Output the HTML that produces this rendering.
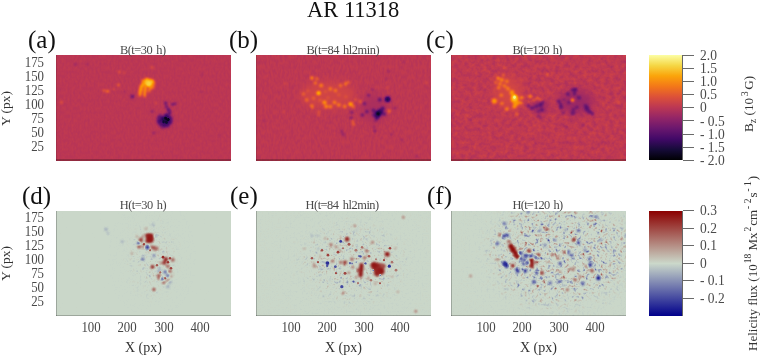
<!DOCTYPE html>
<html><head><meta charset="utf-8">
<style>
*{margin:0;padding:0;box-sizing:border-box}
html,body{width:760px;height:356px;background:#fff;overflow:hidden}
#root{position:absolute;left:0;top:0;width:760px;height:356px;filter:blur(0.45px)}
body{position:relative;font-family:"Liberation Serif",serif;color:#222}
.t{position:absolute;white-space:nowrap;line-height:1}
.pl{font-size:25px;color:#111}
.sub{font-size:11px;color:#444}
.yl{font-size:13px;color:#333;text-align:right;width:30px}
.xl{font-size:13px;color:#333}
.cl{font-size:13px;color:#333}
.rot{transform-origin:0 0;transform:rotate(-90deg)}
.panel{position:absolute;width:175px;height:106px}
.tick{position:absolute;height:1px;width:11px;background:#6a6a6a}
</style></head><body><div id="root">



<svg width="0" height="0" style="position:absolute"><defs><filter id="cmInf" x="0" y="0" width="1" height="1" color-interpolation-filters="sRGB"><feComponentTransfer><feFuncR type="table" tableValues="0.001 0.014 0.042 0.082 0.129 0.183 0.238 0.291 0.342 0.391 0.441 0.491 0.541 0.591 0.640 0.689 0.736 0.781 0.822 0.861 0.894 0.923 0.947 0.965 0.978 0.986 0.988 0.984 0.975 0.961 0.948 0.955 0.988"/><feFuncG type="table" tableValues="0.000 0.011 0.028 0.043 0.047 0.040 0.037 0.046 0.062 0.081 0.099 0.117 0.135 0.153 0.171 0.192 0.216 0.243 0.275 0.312 0.353 0.399 0.449 0.502 0.558 0.616 0.675 0.736 0.798 0.859 0.917 0.966 0.998"/><feFuncB type="table" tableValues="0.014 0.072 0.141 0.215 0.291 0.355 0.396 0.419 0.429 0.433 0.432 0.426 0.415 0.400 0.381 0.358 0.330 0.300 0.266 0.231 0.194 0.155 0.115 0.074 0.035 0.026 0.065 0.130 0.206 0.298 0.411 0.540 0.645"/></feComponentTransfer></filter><filter id="cmDiv" x="0" y="0" width="1" height="1" color-interpolation-filters="sRGB"><feComponentTransfer><feFuncR type="table" tableValues="0.000 0.050 0.100 0.149 0.199 0.249 0.299 0.348 0.398 0.448 0.498 0.547 0.597 0.647 0.697 0.746 0.796 0.780 0.765 0.749 0.733 0.718 0.702 0.686 0.671 0.655 0.639 0.624 0.608 0.592 0.576 0.561 0.545"/><feFuncG type="table" tableValues="0.000 0.053 0.106 0.159 0.212 0.265 0.318 0.371 0.424 0.476 0.529 0.582 0.635 0.688 0.741 0.794 0.847 0.794 0.741 0.688 0.635 0.582 0.529 0.476 0.424 0.371 0.318 0.265 0.212 0.159 0.106 0.053 0.000"/><feFuncB type="table" tableValues="0.545 0.561 0.576 0.591 0.607 0.622 0.638 0.653 0.669 0.684 0.700 0.715 0.730 0.746 0.761 0.777 0.792 0.743 0.693 0.644 0.594 0.545 0.495 0.446 0.396 0.347 0.297 0.248 0.198 0.149 0.099 0.050 0.000"/></feComponentTransfer></filter><filter id="b0_4" filterUnits="userSpaceOnUse" x="-20" y="-20" width="215" height="146"><feGaussianBlur stdDeviation="0.4"/></filter><filter id="b0_6" filterUnits="userSpaceOnUse" x="-20" y="-20" width="215" height="146"><feGaussianBlur stdDeviation="0.6"/></filter><filter id="b0_8" filterUnits="userSpaceOnUse" x="-20" y="-20" width="215" height="146"><feGaussianBlur stdDeviation="0.8"/></filter><filter id="b1" filterUnits="userSpaceOnUse" x="-20" y="-20" width="215" height="146"><feGaussianBlur stdDeviation="1"/></filter><filter id="b1_3" filterUnits="userSpaceOnUse" x="-20" y="-20" width="215" height="146"><feGaussianBlur stdDeviation="1.3"/></filter><filter id="b1_6" filterUnits="userSpaceOnUse" x="-20" y="-20" width="215" height="146"><feGaussianBlur stdDeviation="1.6"/></filter><filter id="b2" filterUnits="userSpaceOnUse" x="-20" y="-20" width="215" height="146"><feGaussianBlur stdDeviation="2"/></filter><filter id="b2_5" filterUnits="userSpaceOnUse" x="-20" y="-20" width="215" height="146"><feGaussianBlur stdDeviation="2.5"/></filter><filter id="b3" filterUnits="userSpaceOnUse" x="-20" y="-20" width="215" height="146"><feGaussianBlur stdDeviation="3"/></filter><filter id="b4" filterUnits="userSpaceOnUse" x="-20" y="-20" width="215" height="146"><feGaussianBlur stdDeviation="4"/></filter><filter id="b5" filterUnits="userSpaceOnUse" x="-20" y="-20" width="215" height="146"><feGaussianBlur stdDeviation="5"/></filter></defs></svg><svg class="panel" style="left:56px;top:55px;width:175px;height:105.5px" viewBox="0 0 175 105.5" preserveAspectRatio="none"><defs><filter id="n_a" x="0" y="0" width="1" height="1" color-interpolation-filters="sRGB"><feTurbulence type="fractalNoise" baseFrequency="0.5 0.25" numOctaves="2" seed="3"/><feColorMatrix type="matrix" values="0.045 0 0 0 0.4775 0.045 0 0 0 0.4775 0.045 0 0 0 0.4775 0 0 0 0 1"/></filter></defs><g filter="url(#cmInf)"><rect width="175" height="105.5" fill="rgb(128,128,128)"/><rect width="175" height="105.5" filter="url(#n_a)"/><g filter="url(#b1)"><circle cx="90" cy="27" r="3" fill="rgb(204,204,204)"/><circle cx="93" cy="28.5" r="3.5" fill="rgb(224,224,224)"/><circle cx="96" cy="26.5" r="2.2" fill="rgb(209,209,209)"/><circle cx="87.5" cy="29" r="2.5" fill="rgb(199,199,199)"/><circle cx="91" cy="25" r="2.2" fill="rgb(209,209,209)"/><circle cx="96.5" cy="30.5" r="2" fill="rgb(194,194,194)"/><circle cx="94" cy="25.3" r="1.8" fill="rgb(204,204,204)"/><circle cx="85.5" cy="31.5" r="2" fill="rgb(204,204,204)"/><circle cx="84.8" cy="34.5" r="2" fill="rgb(201,201,201)"/><circle cx="84.2" cy="37.5" r="1.9" fill="rgb(196,196,196)"/><circle cx="84" cy="40" r="1.6" fill="rgb(189,189,189)"/><circle cx="89.5" cy="33" r="1.8" fill="rgb(201,201,201)"/><circle cx="89" cy="36" r="1.8" fill="rgb(199,199,199)"/><circle cx="88.7" cy="39" r="1.7" fill="rgb(194,194,194)"/><circle cx="88.8" cy="41" r="1.4" fill="rgb(184,184,184)"/><circle cx="93.7" cy="34" r="1.5" fill="rgb(178,178,178)"/><circle cx="97" cy="32.7" r="1.5" fill="rgb(166,166,166)"/><circle cx="94.5" cy="33" r="1.8" fill="rgb(189,189,189)"/><circle cx="96.5" cy="30.5" r="1.8" fill="rgb(189,189,189)"/><circle cx="93" cy="36" r="1.4" fill="rgb(178,178,178)"/><circle cx="98" cy="28" r="1.5" fill="rgb(178,178,178)"/><circle cx="87" cy="25.5" r="1.6" fill="rgb(189,189,189)"/></g><g filter="url(#b0_8)"><circle cx="93" cy="28.2" r="2.2" fill="rgb(230,230,230)"/><circle cx="91" cy="27" r="1.5" fill="rgb(222,222,222)"/><circle cx="95.5" cy="27" r="1.3" fill="rgb(219,219,219)"/></g><ellipse cx="109" cy="66" rx="6.5" ry="5.5" fill="rgb(89,89,89)" filter="url(#b2)"/><g filter="url(#b0_8)"><circle cx="104.5" cy="62.5" r="2.2" fill="rgb(64,64,64)"/><circle cx="103.5" cy="66.5" r="2.5" fill="rgb(56,56,56)"/><circle cx="105.5" cy="69.5" r="2.2" fill="rgb(64,64,64)"/><circle cx="108" cy="70.5" r="2.2" fill="rgb(56,56,56)"/><circle cx="111.5" cy="70" r="2" fill="rgb(56,56,56)"/><circle cx="114" cy="67" r="2.2" fill="rgb(56,56,56)"/><circle cx="113.5" cy="63" r="2.2" fill="rgb(51,51,51)"/><circle cx="110.5" cy="61" r="2.4" fill="rgb(46,46,46)"/><circle cx="107" cy="64" r="2.5" fill="rgb(38,38,38)"/><circle cx="109.5" cy="66" r="2.8" fill="rgb(31,31,31)"/><circle cx="102" cy="64.5" r="1.3" fill="rgb(76,76,76)"/><circle cx="115.5" cy="64" r="1.3" fill="rgb(71,71,71)"/></g><g filter="url(#b0_6)"><circle cx="112" cy="64.6" r="1.6" fill="rgb(8,8,8)"/><circle cx="109.7" cy="63.2" r="1.4" fill="rgb(13,13,13)"/><circle cx="107.5" cy="67" r="1.2" fill="rgb(20,20,20)"/><circle cx="110.5" cy="67.5" r="1.2" fill="rgb(18,18,18)"/></g><g filter="url(#b0_8)"><circle cx="109.7" cy="48" r="1.6" fill="rgb(64,64,64)"/><circle cx="110.5" cy="51.5" r="1.5" fill="rgb(66,66,66)"/><circle cx="112.4" cy="54.7" r="1.7" fill="rgb(56,56,56)"/><circle cx="113.3" cy="58.5" r="1.7" fill="rgb(56,56,56)"/><circle cx="116.5" cy="49.3" r="1.4" fill="rgb(71,71,71)"/><circle cx="119.2" cy="48.8" r="1.3" fill="rgb(76,76,76)"/><circle cx="103" cy="62.3" r="1.5" fill="rgb(71,71,71)"/><circle cx="96.2" cy="56.5" r="1.3" fill="rgb(84,84,84)"/><circle cx="98" cy="78" r="1.2" fill="rgb(89,89,89)"/><circle cx="106" cy="73" r="1" fill="rgb(89,89,89)"/><circle cx="104" cy="59.5" r="1.0" fill="rgb(89,89,89)"/><circle cx="114.5" cy="56" r="1.1" fill="rgb(76,76,76)"/></g><g filter="url(#b0_8)"><circle cx="63.3" cy="17" r="1.2" fill="rgb(168,168,168)"/><circle cx="67.9" cy="17.7" r="1.0" fill="rgb(158,158,158)"/><circle cx="62.5" cy="30" r="1.3" fill="rgb(178,178,178)"/><circle cx="51.7" cy="36.3" r="1.5" fill="rgb(184,184,184)"/><circle cx="48.1" cy="35.5" r="1.3" fill="rgb(173,173,173)"/><circle cx="57.9" cy="34" r="1.0" fill="rgb(163,163,163)"/><circle cx="5.5" cy="47.2" r="1.3" fill="rgb(163,163,163)"/><circle cx="95.8" cy="12.3" r="1.5" fill="rgb(153,153,153)"/><circle cx="99.8" cy="48" r="1.2" fill="rgb(148,148,148)"/></g><g filter="url(#b0_8)"><circle cx="76.4" cy="41.4" r="2" fill="rgb(76,76,76)"/><circle cx="19.3" cy="9.3" r="1.5" fill="rgb(107,107,107)"/><circle cx="31.6" cy="9.3" r="1.3" fill="rgb(107,107,107)"/><circle cx="146" cy="20" r="1" fill="rgb(107,107,107)"/><circle cx="163.6" cy="79.9" r="1" fill="rgb(107,107,107)"/><circle cx="68.7" cy="37" r="1" fill="rgb(102,102,102)"/><circle cx="145.2" cy="37" r="1" fill="rgb(107,107,107)"/></g></g><rect x="0" y="0" width="1" height="105.5" fill="#000" opacity="0.12"/><rect x="0" y="104.5" width="175" height="1" fill="#000" opacity="0.45"/></svg>
<svg class="panel" style="left:256px;top:55px;width:175px;height:105.5px" viewBox="0 0 175 105.5" preserveAspectRatio="none"><defs><filter id="n_b" x="0" y="0" width="1" height="1" color-interpolation-filters="sRGB"><feTurbulence type="fractalNoise" baseFrequency="0.45 0.2" numOctaves="2" seed="5"/><feColorMatrix type="matrix" values="0.06 0 0 0 0.475 0.06 0 0 0 0.475 0.06 0 0 0 0.475 0 0 0 0 1"/></filter></defs><g filter="url(#cmInf)"><rect width="175" height="105.5" fill="rgb(128,128,128)"/><rect width="175" height="105.5" filter="url(#n_b)"/><ellipse cx="72" cy="40" rx="28" ry="13" fill="rgb(142,142,142)" filter="url(#b4)"/><g filter="url(#b1)"><circle cx="55.9" cy="23" r="2" fill="rgb(184,184,184)"/><circle cx="59.3" cy="28" r="1.8" fill="rgb(178,178,178)"/><circle cx="60.9" cy="23.8" r="1.6" fill="rgb(173,173,173)"/><circle cx="65.1" cy="30.6" r="2" fill="rgb(184,184,184)"/><circle cx="62.6" cy="38.1" r="2.2" fill="rgb(204,204,204)"/><circle cx="74.4" cy="33.9" r="1.9" fill="rgb(178,178,178)"/><circle cx="79.5" cy="35.6" r="1.8" fill="rgb(178,178,178)"/><circle cx="84.5" cy="30.6" r="1.8" fill="rgb(173,173,173)"/><circle cx="89.6" cy="28.9" r="1.8" fill="rgb(178,178,178)"/><circle cx="92.1" cy="27.2" r="1.6" fill="rgb(168,168,168)"/><circle cx="47.5" cy="39" r="1.8" fill="rgb(168,168,168)"/><circle cx="50.8" cy="44.9" r="1.8" fill="rgb(173,173,173)"/><circle cx="55.9" cy="50.8" r="1.9" fill="rgb(178,178,178)"/><circle cx="68.5" cy="47.4" r="2.2" fill="rgb(194,194,194)"/><circle cx="70.2" cy="51.6" r="2" fill="rgb(189,189,189)"/><circle cx="74.4" cy="51.6" r="1.9" fill="rgb(184,184,184)"/><circle cx="78.6" cy="47.4" r="1.9" fill="rgb(184,184,184)"/><circle cx="82.8" cy="49.9" r="1.9" fill="rgb(184,184,184)"/><circle cx="88.7" cy="51.6" r="2" fill="rgb(184,184,184)"/><circle cx="94.6" cy="49.1" r="2.2" fill="rgb(199,199,199)"/><circle cx="97.1" cy="51.6" r="1.8" fill="rgb(178,178,178)"/><circle cx="104.7" cy="46.6" r="1.8" fill="rgb(178,178,178)"/><circle cx="57.6" cy="43.2" r="1.6" fill="rgb(168,168,168)"/><circle cx="62.6" cy="57" r="1.3" fill="rgb(168,168,168)"/><circle cx="62.6" cy="60" r="1.2" fill="rgb(163,163,163)"/><circle cx="69.4" cy="36.5" r="1.5" fill="rgb(158,158,158)"/><circle cx="82.8" cy="39.8" r="1.5" fill="rgb(158,158,158)"/><circle cx="52" cy="36" r="1.4" fill="rgb(158,158,158)"/><circle cx="64" cy="45" r="1.5" fill="rgb(163,163,163)"/><circle cx="72" cy="43" r="1.4" fill="rgb(158,158,158)"/><circle cx="90" cy="42" r="1.4" fill="rgb(158,158,158)"/><circle cx="100" cy="45" r="1.4" fill="rgb(163,163,163)"/><circle cx="95.7" cy="48.7" r="1.6" fill="rgb(184,184,184)"/><circle cx="132.8" cy="56" r="1.8" fill="rgb(194,194,194)"/><circle cx="97.4" cy="69" r="1.5" fill="rgb(173,173,173)"/><circle cx="96.8" cy="66" r="1.3" fill="rgb(173,173,173)"/><circle cx="88.1" cy="50.9" r="1.4" fill="rgb(173,173,173)"/><circle cx="56.6" cy="52.5" r="1.4" fill="rgb(173,173,173)"/><circle cx="29.3" cy="28.5" r="1.3" fill="rgb(153,153,153)"/><circle cx="27.5" cy="57" r="1.2" fill="rgb(148,148,148)"/><circle cx="170.6" cy="27.8" r="1.3" fill="rgb(153,153,153)"/><circle cx="131.3" cy="32.4" r="1.3" fill="rgb(153,153,153)"/><circle cx="133" cy="56.3" r="1.5" fill="rgb(184,184,184)"/><circle cx="104.7" cy="47" r="1.5" fill="rgb(178,178,178)"/></g><g filter="url(#b0_8)"><circle cx="62.6" cy="38.1" r="1.2" fill="rgb(219,219,219)"/><circle cx="94.6" cy="49.1" r="1.0" fill="rgb(209,209,209)"/></g><ellipse cx="118" cy="53" rx="13" ry="14" fill="rgb(116,116,116)" filter="url(#b4)"/><g filter="url(#b0_8)"><circle cx="131.6" cy="44.2" r="3" fill="rgb(46,46,46)"/><circle cx="122.1" cy="58.8" r="3.2" fill="rgb(26,26,26)"/><circle cx="124.3" cy="56.6" r="2.8" fill="rgb(38,38,38)"/><circle cx="126.6" cy="53.8" r="2.2" fill="rgb(64,64,64)"/><circle cx="123.8" cy="44.8" r="2" fill="rgb(71,71,71)"/><circle cx="117.6" cy="55.5" r="2" fill="rgb(69,69,69)"/><circle cx="118.2" cy="60" r="2" fill="rgb(66,66,66)"/><circle cx="110.9" cy="56.6" r="1.8" fill="rgb(76,76,76)"/><circle cx="108.6" cy="48.7" r="1.6" fill="rgb(76,76,76)"/><circle cx="106.4" cy="60" r="1.8" fill="rgb(76,76,76)"/><circle cx="112.5" cy="40.3" r="1.5" fill="rgb(82,82,82)"/><circle cx="116.5" cy="34.7" r="1.3" fill="rgb(97,97,97)"/><circle cx="95.7" cy="57.2" r="1.5" fill="rgb(82,82,82)"/><circle cx="95.1" cy="62.8" r="1.5" fill="rgb(84,84,84)"/><circle cx="119.8" cy="65.6" r="1.5" fill="rgb(92,92,92)"/><circle cx="139" cy="53.2" r="1.3" fill="rgb(97,97,97)"/><circle cx="121" cy="62" r="2.5" fill="rgb(51,51,51)"/><circle cx="128" cy="59" r="2" fill="rgb(71,71,71)"/><circle cx="118.8" cy="76" r="1.4" fill="rgb(84,84,84)"/><circle cx="118" cy="72" r="1.2" fill="rgb(97,97,97)"/><circle cx="135.3" cy="79.1" r="1.2" fill="rgb(97,97,97)"/><circle cx="145.5" cy="84.6" r="1.2" fill="rgb(102,102,102)"/><circle cx="160.5" cy="101.1" r="1.2" fill="rgb(102,102,102)"/><circle cx="86.6" cy="78.3" r="1.2" fill="rgb(102,102,102)"/><circle cx="85.7" cy="76" r="1.2" fill="rgb(92,92,92)"/><circle cx="87.3" cy="79.9" r="1.2" fill="rgb(92,92,92)"/><circle cx="7.9" cy="65.7" r="1.2" fill="rgb(107,107,107)"/><circle cx="132.8" cy="16.2" r="1.2" fill="rgb(102,102,102)"/><circle cx="147.5" cy="6.9" r="1.2" fill="rgb(102,102,102)"/><circle cx="130.5" cy="23.9" r="1.2" fill="rgb(107,107,107)"/></g><g filter="url(#b0_8)"><circle cx="122.1" cy="58.8" r="1.6" fill="rgb(0,0,0)"/><circle cx="131.6" cy="44.2" r="1.5" fill="rgb(20,20,20)"/></g></g><rect x="0" y="0" width="1" height="105.5" fill="#000" opacity="0.12"/><rect x="0" y="104.5" width="175" height="1" fill="#000" opacity="0.45"/></svg>
<svg class="panel" style="left:451px;top:55px;width:175px;height:105.5px" viewBox="0 0 175 105.5" preserveAspectRatio="none"><defs><filter id="n_c" x="0" y="0" width="1" height="1" color-interpolation-filters="sRGB"><feTurbulence type="fractalNoise" baseFrequency="0.22" numOctaves="3" seed="7"/><feColorMatrix type="matrix" values="0.12 0 0 0 0.45 0.12 0 0 0 0.45 0.12 0 0 0 0.45 0 0 0 0 1"/></filter></defs><g filter="url(#cmInf)"><rect width="175" height="105.5" fill="rgb(128,128,128)"/><rect width="175" height="105.5" filter="url(#n_c)"/><ellipse cx="57" cy="38" rx="14" ry="16" fill="rgb(144,144,144)" filter="url(#b4)"/><g filter="url(#b1)"><circle cx="63.5" cy="44" r="4" fill="rgb(196,196,196)"/><circle cx="61" cy="38" r="2.5" fill="rgb(191,191,191)"/><circle cx="65" cy="48" r="3" fill="rgb(196,196,196)"/><circle cx="47.1" cy="23.2" r="2" fill="rgb(186,186,186)"/><circle cx="50.9" cy="25.1" r="2" fill="rgb(186,186,186)"/><circle cx="55.9" cy="26.4" r="1.8" fill="rgb(181,181,181)"/><circle cx="49" cy="28.9" r="1.8" fill="rgb(181,181,181)"/><circle cx="53.4" cy="30.8" r="1.8" fill="rgb(181,181,181)"/><circle cx="47.7" cy="32.7" r="1.8" fill="rgb(181,181,181)"/><circle cx="57.2" cy="33.9" r="1.8" fill="rgb(186,186,186)"/><circle cx="61" cy="37.1" r="2" fill="rgb(196,196,196)"/><circle cx="43.3" cy="45.9" r="2.6" fill="rgb(196,196,196)"/><circle cx="50.3" cy="40.3" r="1.8" fill="rgb(181,181,181)"/><circle cx="50.9" cy="48.5" r="1.8" fill="rgb(181,181,181)"/><circle cx="55.9" cy="54.1" r="2" fill="rgb(191,191,191)"/><circle cx="63.5" cy="51.6" r="2.2" fill="rgb(196,196,196)"/><circle cx="70.5" cy="42.8" r="1.8" fill="rgb(191,191,191)"/><circle cx="70.5" cy="47.8" r="1.6" fill="rgb(181,181,181)"/><circle cx="79.3" cy="41.5" r="1.8" fill="rgb(181,181,181)"/><circle cx="83.1" cy="45.3" r="1.6" fill="rgb(176,176,176)"/><circle cx="55.9" cy="32.7" r="1.6" fill="rgb(176,176,176)"/><circle cx="52.2" cy="20" r="1.5" fill="rgb(173,173,173)"/><circle cx="44.6" cy="27.6" r="1.5" fill="rgb(173,173,173)"/><circle cx="53.2" cy="13.1" r="1.4" fill="rgb(166,166,166)"/><circle cx="66" cy="59.4" r="1.4" fill="rgb(176,176,176)"/><circle cx="83.3" cy="70.4" r="1.2" fill="rgb(166,166,166)"/><circle cx="96.6" cy="19.3" r="1.4" fill="rgb(171,171,171)"/><circle cx="88.9" cy="44.8" r="1.5" fill="rgb(176,176,176)"/><circle cx="167.6" cy="47" r="1.3" fill="rgb(166,166,166)"/><circle cx="79" cy="41.3" r="1.8" fill="rgb(186,186,186)"/><circle cx="86.4" cy="43.5" r="1.5" fill="rgb(181,181,181)"/><circle cx="89.7" cy="45.2" r="1.5" fill="rgb(181,181,181)"/><circle cx="55.8" cy="53.9" r="1.6" fill="rgb(181,181,181)"/><circle cx="67.9" cy="47.8" r="1.8" fill="rgb(191,191,191)"/></g><ellipse cx="63.5" cy="42.8" rx="2.6" ry="3.2" fill="rgb(224,224,224)" filter="url(#b1)"/><ellipse cx="63.5" cy="42.2" rx="1.4" ry="1.7" fill="rgb(247,247,247)" filter="url(#b0_6)"/><g filter="url(#b0_8)"><circle cx="121.6" cy="45.2" r="1.7" fill="rgb(194,194,194)"/><circle cx="121.2" cy="44.9" r="1.2" fill="rgb(204,204,204)"/></g><ellipse cx="89" cy="52" rx="9" ry="6" fill="rgb(107,107,107)" filter="url(#b3)"/><ellipse cx="125" cy="47" rx="17" ry="12" fill="rgb(107,107,107)" filter="url(#b4)"/><g filter="url(#b1)"><circle cx="89.7" cy="49.7" r="2.2" fill="rgb(64,64,64)"/><circle cx="90.9" cy="54.8" r="2" fill="rgb(71,71,71)"/><circle cx="85.2" cy="51.4" r="2" fill="rgb(76,76,76)"/><circle cx="80.7" cy="53.1" r="1.8" fill="rgb(76,76,76)"/><circle cx="77.4" cy="50.8" r="1.6" fill="rgb(82,82,82)"/><circle cx="87.5" cy="61" r="1.5" fill="rgb(92,92,92)"/><circle cx="92" cy="47.5" r="1.6" fill="rgb(76,76,76)"/><circle cx="110" cy="52" r="2.2" fill="rgb(64,64,64)"/><circle cx="107.7" cy="46.3" r="2" fill="rgb(76,76,76)"/><circle cx="116.7" cy="39" r="2" fill="rgb(76,76,76)"/><circle cx="117.8" cy="47.5" r="1.8" fill="rgb(76,76,76)"/><circle cx="121.2" cy="35.1" r="1.8" fill="rgb(76,76,76)"/><circle cx="121.2" cy="57.6" r="1.8" fill="rgb(82,82,82)"/><circle cx="112.2" cy="57.6" r="1.6" fill="rgb(87,87,87)"/><circle cx="124.1" cy="34.8" r="2.2" fill="rgb(61,61,61)"/><circle cx="128" cy="42.7" r="2" fill="rgb(69,69,69)"/><circle cx="123.5" cy="38.7" r="1.8" fill="rgb(71,71,71)"/><circle cx="135.9" cy="53.3" r="2.4" fill="rgb(56,56,56)"/><circle cx="134.7" cy="51.1" r="2" fill="rgb(66,66,66)"/><circle cx="138.1" cy="56.7" r="2" fill="rgb(69,69,69)"/><circle cx="122.4" cy="54.5" r="1.8" fill="rgb(76,76,76)"/><circle cx="125.7" cy="52.2" r="1.8" fill="rgb(76,76,76)"/><circle cx="121.2" cy="59" r="1.6" fill="rgb(82,82,82)"/><circle cx="141.5" cy="59" r="1.8" fill="rgb(76,76,76)"/><circle cx="124.4" cy="34.7" r="1.8" fill="rgb(66,66,66)"/><circle cx="109.7" cy="49.4" r="1.8" fill="rgb(76,76,76)"/><circle cx="90.5" cy="54.7" r="1.8" fill="rgb(76,76,76)"/><circle cx="110.2" cy="52.4" r="1.6" fill="rgb(76,76,76)"/><circle cx="122.7" cy="57.9" r="1.7" fill="rgb(76,76,76)"/><circle cx="135.3" cy="54.7" r="1.7" fill="rgb(71,71,71)"/><circle cx="140" cy="57.1" r="1.6" fill="rgb(76,76,76)"/><circle cx="132.2" cy="70.4" r="1.4" fill="rgb(92,92,92)"/><circle cx="114.9" cy="72" r="1.3" fill="rgb(97,97,97)"/><circle cx="89.7" cy="62.6" r="1.3" fill="rgb(92,92,92)"/><circle cx="81.8" cy="53.1" r="1.5" fill="rgb(82,82,82)"/><circle cx="87.3" cy="56.3" r="1.5" fill="rgb(82,82,82)"/><circle cx="19.7" cy="64.9" r="1.3" fill="rgb(102,102,102)"/><circle cx="134.4" cy="50.9" r="1.7" fill="rgb(71,71,71)"/><circle cx="112.8" cy="44.8" r="1.4" fill="rgb(89,89,89)"/><circle cx="127.4" cy="42.4" r="1.7" fill="rgb(76,76,76)"/><circle cx="117.4" cy="39.4" r="1.6" fill="rgb(76,76,76)"/><circle cx="81.2" cy="52.9" r="1.6" fill="rgb(76,76,76)"/><circle cx="77.4" cy="50.4" r="1.4" fill="rgb(84,84,84)"/><circle cx="86.2" cy="50.4" r="1.5" fill="rgb(76,76,76)"/></g><g filter="url(#b0_8)"><circle cx="121.6" cy="45.2" r="1.7" fill="rgb(194,194,194)"/><circle cx="121.2" cy="44.9" r="1.2" fill="rgb(204,204,204)"/></g></g><rect x="0" y="0" width="1" height="105.5" fill="#000" opacity="0.12"/><rect x="0" y="104.5" width="175" height="1" fill="#000" opacity="0.45"/></svg>
<svg class="panel" style="left:56px;top:210.8px;width:175px;height:105.5px" viewBox="0 0 175 105.5" preserveAspectRatio="none"><defs><filter id="n_d" x="0" y="0" width="1" height="1" color-interpolation-filters="sRGB"><feTurbulence type="fractalNoise" baseFrequency="0.5" numOctaves="2" seed="9"/><feColorMatrix type="matrix" values="0.015 0 0 0 0.4925 0.015 0 0 0 0.4925 0.015 0 0 0 0.4925 0 0 0 0 1"/></filter></defs><g filter="url(#cmDiv)"><rect width="175" height="105.5" fill="rgb(128,128,128)"/><rect width="175" height="105.5" filter="url(#n_d)"/><filter id="sp1" filterUnits="userSpaceOnUse" x="0" y="0" width="175" height="106" color-interpolation-filters="sRGB"><feGaussianBlur in="SourceAlpha" stdDeviation="10" result="m"/><feTurbulence type="fractalNoise" baseFrequency="0.3" numOctaves="2" seed="41" result="t"/><feColorMatrix in="t" type="matrix" values="0.7 0 0 0 0.15000000000000002 0.7 0 0 0 0.15000000000000002 0.7 0 0 0 0.15000000000000002 0 0 0 0 1" result="c"/><feComponentTransfer in="c" result="d"><feFuncR type="table" tableValues="0 0.22 0.38 0.46 0.5 0.5 0.54 0.62 0.78 1"/><feFuncG type="table" tableValues="0 0.22 0.38 0.46 0.5 0.5 0.54 0.62 0.78 1"/><feFuncB type="table" tableValues="0 0.22 0.38 0.46 0.5 0.5 0.54 0.62 0.78 1"/></feComponentTransfer><feComposite in="d" in2="m" operator="in"/></filter><ellipse cx="96" cy="47.2" rx="20" ry="34" fill="#000" filter="url(#sp1)"/><path d="M90.5 24.2 L96 24.2 L95.8 29.7 L91 30.2" stroke="rgb(242,242,242)" stroke-width="3.0" fill="none" stroke-linecap="round" stroke-linejoin="round" filter="url(#b0_8)"/><ellipse cx="93.3" cy="27.2" rx="3.4" ry="4.0" fill="rgb(242,242,242)" filter="url(#b0_8)"/><g filter="url(#b0_8)"><circle cx="84.8" cy="29.5" r="2.2" fill="rgb(204,204,204)"/><circle cx="83.1" cy="35.7" r="1.8" fill="rgb(209,209,209)"/><circle cx="89.8" cy="17.7" r="1.5" fill="rgb(158,158,158)"/><circle cx="87" cy="25.2" r="1.5" fill="rgb(178,178,178)"/><circle cx="94" cy="35.2" r="1.5" fill="rgb(191,191,191)"/><circle cx="97.7" cy="36.8" r="1.8" fill="rgb(224,224,224)"/><circle cx="101.1" cy="37.9" r="1.5" fill="rgb(204,204,204)"/><circle cx="83.1" cy="35.6" r="1.6" fill="rgb(217,217,217)"/><circle cx="87.3" cy="35.6" r="1.3" fill="rgb(204,204,204)"/><circle cx="96.5" cy="36.3" r="1.5" fill="rgb(217,217,217)"/><circle cx="100.7" cy="37.0" r="1.4" fill="rgb(204,204,204)"/><circle cx="76.1" cy="42.6" r="1.4" fill="rgb(166,166,166)"/><circle cx="109.8" cy="48.2" r="2.2" fill="rgb(235,235,235)"/><circle cx="108.4" cy="51.8" r="2" fill="rgb(235,235,235)"/><circle cx="116.8" cy="48.9" r="1.8" fill="rgb(209,209,209)"/><circle cx="96.5" cy="56.0" r="2" fill="rgb(235,235,235)"/><circle cx="111.9" cy="55.3" r="1.7" fill="rgb(204,204,204)"/><circle cx="114" cy="60.2" r="1.7" fill="rgb(204,204,204)"/><circle cx="102.8" cy="64.4" r="1.7" fill="rgb(217,217,217)"/><circle cx="102.8" cy="67.2" r="1.5" fill="rgb(204,204,204)"/><circle cx="107.7" cy="71.4" r="1.6" fill="rgb(209,209,209)"/><circle cx="111.9" cy="69.3" r="1.5" fill="rgb(191,191,191)"/><circle cx="97.9" cy="78.4" r="1.5" fill="rgb(230,230,230)"/><circle cx="85" cy="28.2" r="1.5" fill="rgb(230,230,230)"/><circle cx="105" cy="52.2" r="1.3" fill="rgb(184,184,184)"/><circle cx="115" cy="65.2" r="1.3" fill="rgb(184,184,184)"/><circle cx="99" cy="39.2" r="1.2" fill="rgb(178,178,178)"/><circle cx="92" cy="41.2" r="1.1" fill="rgb(166,166,166)"/><circle cx="81" cy="25.2" r="1.2" fill="rgb(166,166,166)"/></g><g filter="url(#b0_6)"><circle cx="107" cy="46.2" r="1.4" fill="rgb(230,230,230)"/><circle cx="112" cy="51.2" r="1.3" fill="rgb(224,224,224)"/><circle cx="115" cy="57.2" r="1.3" fill="rgb(217,217,217)"/><circle cx="104" cy="61.2" r="1.3" fill="rgb(217,217,217)"/><circle cx="109" cy="67.2" r="1.2" fill="rgb(217,217,217)"/><circle cx="101" cy="54.2" r="1.2" fill="rgb(204,204,204)"/><circle cx="114" cy="47.2" r="1.2" fill="rgb(217,217,217)"/><circle cx="88" cy="33.2" r="1.2" fill="rgb(217,217,217)"/><circle cx="94" cy="39.2" r="1.1" fill="rgb(204,204,204)"/></g><g filter="url(#b0_8)"><circle cx="82.5" cy="32.3" r="1.3" fill="rgb(13,13,13)"/><circle cx="91.5" cy="36.2" r="2" fill="rgb(13,13,13)"/><circle cx="86.6" cy="48.2" r="1.4" fill="rgb(46,46,46)"/><circle cx="97.9" cy="44.7" r="1.3" fill="rgb(51,51,51)"/><circle cx="109.1" cy="60.9" r="1.6" fill="rgb(51,51,51)"/><circle cx="111.9" cy="64.4" r="1.5" fill="rgb(56,56,56)"/><circle cx="106.3" cy="67.9" r="1.5" fill="rgb(31,31,31)"/><circle cx="102.8" cy="60.2" r="1.3" fill="rgb(82,82,82)"/><circle cx="111.9" cy="75.6" r="1.2" fill="rgb(76,76,76)"/><circle cx="96.6" cy="13.2" r="1.0" fill="rgb(89,89,89)"/><circle cx="66.2" cy="30.6" r="1.2" fill="rgb(89,89,89)"/><circle cx="50" cy="18.2" r="1.2" fill="rgb(82,82,82)"/><circle cx="52" cy="22.2" r="1.0" fill="rgb(89,89,89)"/><circle cx="114" cy="71.2" r="1.2" fill="rgb(76,76,76)"/><circle cx="104" cy="57.2" r="1.1" fill="rgb(76,76,76)"/><circle cx="99" cy="25.2" r="1.1" fill="rgb(76,76,76)"/></g></g><rect x="0" y="0" width="1" height="105.5" fill="#000" opacity="0.22"/><rect x="0" y="104.5" width="175" height="1" fill="#000" opacity="0.45"/></svg>
<svg class="panel" style="left:256px;top:210.8px;width:175px;height:105.5px" viewBox="0 0 175 105.5" preserveAspectRatio="none"><defs><filter id="n_e" x="0" y="0" width="1" height="1" color-interpolation-filters="sRGB"><feTurbulence type="fractalNoise" baseFrequency="0.5" numOctaves="2" seed="11"/><feColorMatrix type="matrix" values="0.03 0 0 0 0.485 0.03 0 0 0 0.485 0.03 0 0 0 0.485 0 0 0 0 1"/></filter></defs><g filter="url(#cmDiv)"><rect width="175" height="105.5" fill="rgb(128,128,128)"/><rect width="175" height="105.5" filter="url(#n_e)"/><filter id="sp2" filterUnits="userSpaceOnUse" x="0" y="0" width="175" height="106" color-interpolation-filters="sRGB"><feGaussianBlur in="SourceAlpha" stdDeviation="12" result="m"/><feTurbulence type="fractalNoise" baseFrequency="0.3" numOctaves="2" seed="31" result="t"/><feColorMatrix in="t" type="matrix" values="0.88 0 0 0 0.06 0.88 0 0 0 0.06 0.88 0 0 0 0.06 0 0 0 0 1" result="c"/><feComponentTransfer in="c" result="d"><feFuncR type="table" tableValues="0 0.22 0.38 0.46 0.5 0.5 0.54 0.62 0.78 1"/><feFuncG type="table" tableValues="0 0.22 0.38 0.46 0.5 0.5 0.54 0.62 0.78 1"/><feFuncB type="table" tableValues="0 0.22 0.38 0.46 0.5 0.5 0.54 0.62 0.78 1"/></feComponentTransfer><feComposite in="d" in2="m" operator="in"/></filter><ellipse cx="96" cy="51.2" rx="48" ry="34" fill="#000" filter="url(#sp2)"/><g filter="url(#b0_8)"><circle cx="122.1" cy="57.3" r="5.5" fill="rgb(230,230,230)"/><circle cx="118" cy="54.2" r="3.5" fill="rgb(242,242,242)"/><circle cx="125" cy="60.2" r="3.5" fill="rgb(242,242,242)"/><circle cx="121" cy="62.2" r="3" fill="rgb(235,235,235)"/><circle cx="127" cy="55.2" r="2.5" fill="rgb(217,217,217)"/></g><path d="M105.5 54.2 L105 59.2 L104.5 64.2" stroke="rgb(242,242,242)" stroke-width="4.2" fill="none" stroke-linecap="round" stroke-linejoin="round" filter="url(#b0_8)"/><g filter="url(#b0_8)"><circle cx="131.2" cy="43.2" r="2.5" fill="rgb(242,242,242)"/><circle cx="91" cy="28.2" r="2.4" fill="rgb(235,235,235)"/><circle cx="89" cy="51.4" r="2" fill="rgb(235,235,235)"/><circle cx="103" cy="59.2" r="1.8" fill="rgb(230,230,230)"/></g><g filter="url(#b0_8)"><circle cx="74.9" cy="33.9" r="1.8" fill="rgb(191,191,191)"/><circle cx="80.5" cy="36.0" r="1.6" fill="rgb(184,184,184)"/><circle cx="58" cy="53.5" r="1.4" fill="rgb(166,166,166)"/><circle cx="76.3" cy="50.0" r="1.7" fill="rgb(191,191,191)"/><circle cx="84.7" cy="51.4" r="1.7" fill="rgb(199,199,199)"/><circle cx="110.9" cy="39.7" r="1.8" fill="rgb(204,204,204)"/><circle cx="108.7" cy="46.8" r="1.8" fill="rgb(199,199,199)"/><circle cx="116.5" cy="31.3" r="1.4" fill="rgb(199,199,199)"/><circle cx="96.1" cy="48.2" r="1.6" fill="rgb(199,199,199)"/><circle cx="126.3" cy="54.5" r="1.6" fill="rgb(204,204,204)"/><circle cx="95.3" cy="47.9" r="1.5" fill="rgb(191,191,191)"/><circle cx="96.7" cy="56.3" r="1.5" fill="rgb(191,191,191)"/><circle cx="48.2" cy="37.4" r="1.3" fill="rgb(158,158,158)"/><circle cx="98.8" cy="14.9" r="1.3" fill="rgb(184,184,184)"/><circle cx="119.3" cy="72.7" r="1.4" fill="rgb(166,166,166)"/><circle cx="58.6" cy="55.5" r="1.4" fill="rgb(191,191,191)"/><circle cx="87" cy="82.0" r="1.5" fill="rgb(199,199,199)"/><circle cx="92.7" cy="61.8" r="1.4" fill="rgb(184,184,184)"/><circle cx="147.3" cy="6.2" r="1.2" fill="rgb(204,204,204)"/><circle cx="159.8" cy="100.2" r="1.2" fill="rgb(204,204,204)"/><circle cx="141.9" cy="80.8" r="1.2" fill="rgb(166,166,166)"/><circle cx="69" cy="27.2" r="1.2" fill="rgb(166,166,166)"/><circle cx="84" cy="39.2" r="1.3" fill="rgb(173,173,173)"/><circle cx="112" cy="67.2" r="1.5" fill="rgb(178,178,178)"/><circle cx="100" cy="66.2" r="1.4" fill="rgb(178,178,178)"/><circle cx="136" cy="65.2" r="1.2" fill="rgb(166,166,166)"/><circle cx="139" cy="37.2" r="1.2" fill="rgb(166,166,166)"/><circle cx="64" cy="45.2" r="1.2" fill="rgb(158,158,158)"/></g><g filter="url(#b0_6)"><circle cx="66" cy="39.2" r="1.3" fill="rgb(209,209,209)"/><circle cx="72" cy="44.2" r="1.4" fill="rgb(217,217,217)"/><circle cx="82" cy="41.2" r="1.4" fill="rgb(217,217,217)"/><circle cx="87" cy="37.2" r="1.0" fill="rgb(196,196,196)"/><circle cx="93" cy="33.2" r="1.5" fill="rgb(204,204,204)"/><circle cx="100" cy="39.2" r="1.5" fill="rgb(184,184,184)"/><circle cx="106" cy="36.2" r="1.2" fill="rgb(189,189,189)"/><circle cx="113" cy="45.2" r="1.3" fill="rgb(201,201,201)"/><circle cx="120" cy="48.2" r="1.0" fill="rgb(186,186,186)"/><circle cx="128" cy="49.2" r="1.1" fill="rgb(217,217,217)"/><circle cx="136" cy="51.2" r="1.4" fill="rgb(186,186,186)"/><circle cx="140" cy="59.2" r="1.4" fill="rgb(184,184,184)"/><circle cx="115" cy="69.2" r="1.3" fill="rgb(184,184,184)"/><circle cx="124" cy="72.2" r="1.0" fill="rgb(214,214,214)"/><circle cx="102" cy="72.2" r="1.1" fill="rgb(186,186,186)"/><circle cx="89" cy="62.2" r="1.5" fill="rgb(214,214,214)"/><circle cx="80" cy="62.2" r="1.1" fill="rgb(217,217,217)"/><circle cx="56" cy="47.2" r="1.3" fill="rgb(207,207,207)"/><circle cx="62" cy="51.2" r="1.1" fill="rgb(217,217,217)"/><circle cx="134" cy="37.2" r="1.3" fill="rgb(217,217,217)"/></g><g filter="url(#b0_6)"><circle cx="84.7" cy="30.4" r="1.4" fill="rgb(33,33,33)"/><circle cx="71.4" cy="52.1" r="1.9" fill="rgb(26,26,26)"/><circle cx="79.1" cy="55.6" r="1.2" fill="rgb(51,51,51)"/><circle cx="93.9" cy="52.1" r="1.2" fill="rgb(59,59,59)"/><circle cx="103" cy="45.1" r="1.1" fill="rgb(71,71,71)"/><circle cx="133.3" cy="55.2" r="1.6" fill="rgb(26,26,26)"/><circle cx="104.5" cy="45.4" r="1.2" fill="rgb(46,46,46)"/><circle cx="109.4" cy="52.4" r="1.2" fill="rgb(51,51,51)"/><circle cx="97.5" cy="70.6" r="1.1" fill="rgb(51,51,51)"/><circle cx="117.2" cy="59.4" r="0.9" fill="rgb(71,71,71)"/><circle cx="124.2" cy="64.3" r="1.0" fill="rgb(71,71,71)"/><circle cx="96.1" cy="52.4" r="1.0" fill="rgb(71,71,71)"/><circle cx="85.8" cy="75.7" r="1.6" fill="rgb(41,41,41)"/><circle cx="85.1" cy="66.8" r="1.0" fill="rgb(97,97,97)"/><circle cx="79.5" cy="55.7" r="1.2" fill="rgb(51,51,51)"/><circle cx="71.2" cy="54.8" r="1.2" fill="rgb(46,46,46)"/></g><g filter="url(#b0_8)"><circle cx="55.9" cy="24.7" r="1.2" fill="rgb(97,97,97)"/><circle cx="61.6" cy="24.7" r="1.1" fill="rgb(102,102,102)"/><circle cx="62.3" cy="38.1" r="1.1" fill="rgb(102,102,102)"/><circle cx="100.2" cy="19.8" r="1.0" fill="rgb(110,110,110)"/><circle cx="65" cy="59.2" r="0.9" fill="rgb(110,110,110)"/><circle cx="49" cy="33.2" r="0.9" fill="rgb(110,110,110)"/><circle cx="74" cy="69.2" r="0.9" fill="rgb(110,110,110)"/><circle cx="128" cy="29.2" r="0.9" fill="rgb(110,110,110)"/></g></g><rect x="0" y="0" width="1" height="105.5" fill="#000" opacity="0.22"/><rect x="0" y="104.5" width="175" height="1" fill="#000" opacity="0.45"/></svg>
<svg class="panel" style="left:451px;top:210.8px;width:175px;height:105.5px" viewBox="0 0 175 105.5" preserveAspectRatio="none"><defs><filter id="n_f" x="0" y="0" width="1" height="1" color-interpolation-filters="sRGB"><feTurbulence type="fractalNoise" baseFrequency="0.5" numOctaves="2" seed="13"/><feColorMatrix type="matrix" values="0.03 0 0 0 0.485 0.03 0 0 0 0.485 0.03 0 0 0 0.485 0 0 0 0 1"/></filter></defs><g filter="url(#cmDiv)"><rect width="175" height="105.5" fill="rgb(128,128,128)"/><rect width="175" height="105.5" filter="url(#n_f)"/><filter id="sp3" filterUnits="userSpaceOnUse" x="0" y="0" width="175" height="106" color-interpolation-filters="sRGB"><feGaussianBlur in="SourceAlpha" stdDeviation="13" result="m"/><feTurbulence type="fractalNoise" baseFrequency="0.26" numOctaves="2" seed="21" result="t"/><feColorMatrix in="t" type="matrix" values="1.12 0 0 0 -0.06000000000000005 1.12 0 0 0 -0.06000000000000005 1.12 0 0 0 -0.06000000000000005 0 0 0 0 1" result="c"/><feComponentTransfer in="c" result="d"><feFuncR type="table" tableValues="0 0.2 0.36 0.45 0.5 0.5 0.55 0.64 0.8 1"/><feFuncG type="table" tableValues="0 0.2 0.36 0.45 0.5 0.5 0.55 0.64 0.8 1"/><feFuncB type="table" tableValues="0 0.2 0.36 0.45 0.5 0.5 0.55 0.64 0.8 1"/></feComponentTransfer><feComposite in="d" in2="m" operator="in"/></filter><ellipse cx="111" cy="41.2" rx="68" ry="48" fill="#000" filter="url(#sp3)"/><g filter="url(#b0_8)"><circle cx="60" cy="35.2" r="2.64" fill="rgb(247,247,247)"/><circle cx="62" cy="38.7" r="2.88" fill="rgb(250,250,250)"/><circle cx="64.5" cy="42.2" r="2.64" fill="rgb(247,247,247)"/><circle cx="66.5" cy="45.7" r="2.4" fill="rgb(242,242,242)"/><circle cx="80.5" cy="48.2" r="2.28" fill="rgb(247,247,247)"/><circle cx="80.7" cy="51.7" r="2.4" fill="rgb(250,250,250)"/><circle cx="80.8" cy="55.0" r="2.16" fill="rgb(242,242,242)"/><circle cx="53.5" cy="52.2" r="1.92" fill="rgb(10,10,10)"/><circle cx="55.5" cy="54.7" r="1.92" fill="rgb(10,10,10)"/></g><g filter="url(#b0_8)"><circle cx="66.1" cy="44.6" r="2.4" fill="rgb(242,242,242)"/><circle cx="78.1" cy="40.1" r="2.16" fill="rgb(224,224,224)"/><circle cx="87.6" cy="43.9" r="1.92" fill="rgb(217,217,217)"/><circle cx="61.7" cy="54.7" r="2.04" fill="rgb(224,224,224)"/><circle cx="57.9" cy="30.7" r="1.8" fill="rgb(209,209,209)"/><circle cx="49" cy="23.7" r="1.4" fill="rgb(191,191,191)"/><circle cx="90.7" cy="62.2" r="1.92" fill="rgb(217,217,217)"/><circle cx="46.5" cy="48.3" r="1.56" fill="rgb(184,184,184)"/><circle cx="49.4" cy="24.1" r="1.5" fill="rgb(209,209,209)"/><circle cx="122.8" cy="28.8" r="2.0" fill="rgb(230,230,230)"/><circle cx="113.7" cy="41.6" r="1.8" fill="rgb(217,217,217)"/><circle cx="107.3" cy="47.0" r="1.6" fill="rgb(209,209,209)"/><circle cx="141.1" cy="59.8" r="1.8" fill="rgb(217,217,217)"/><circle cx="123.7" cy="68.9" r="1.6" fill="rgb(209,209,209)"/><circle cx="101.8" cy="43.4" r="1.5" fill="rgb(204,204,204)"/><circle cx="118.2" cy="58.0" r="1.6" fill="rgb(191,191,191)"/><circle cx="96" cy="18.6" r="1.8" fill="rgb(224,224,224)"/><circle cx="123" cy="28.5" r="2.0" fill="rgb(230,230,230)"/><circle cx="62.2" cy="54.7" r="1.92" fill="rgb(230,230,230)"/><circle cx="79.5" cy="53.5" r="1.92" fill="rgb(230,230,230)"/><circle cx="91" cy="61.6" r="1.92" fill="rgb(217,217,217)"/><circle cx="116.4" cy="78.8" r="1.5" fill="rgb(204,204,204)"/><circle cx="122.1" cy="58.1" r="1.6" fill="rgb(209,209,209)"/><circle cx="124.4" cy="68.5" r="1.5" fill="rgb(204,204,204)"/><circle cx="140.6" cy="59.3" r="1.5" fill="rgb(209,209,209)"/><circle cx="19.6" cy="65.0" r="1.2" fill="rgb(191,191,191)"/><circle cx="69" cy="38.2" r="1.56" fill="rgb(204,204,204)"/><circle cx="84" cy="51.2" r="1.44" fill="rgb(204,204,204)"/><circle cx="135" cy="55.2" r="1.3" fill="rgb(204,204,204)"/><circle cx="129" cy="65.2" r="1.2" fill="rgb(199,199,199)"/><circle cx="109" cy="61.2" r="1.2" fill="rgb(199,199,199)"/><circle cx="97" cy="51.2" r="1.2" fill="rgb(191,191,191)"/></g><g filter="url(#b0_8)"><circle cx="69.3" cy="42.0" r="1.92" fill="rgb(8,8,8)"/><circle cx="74.9" cy="44.6" r="1.92" fill="rgb(8,8,8)"/><circle cx="80" cy="45.2" r="1.92" fill="rgb(13,13,13)"/><circle cx="69.9" cy="47.7" r="1.68" fill="rgb(26,26,26)"/><circle cx="73.7" cy="49.0" r="1.56" fill="rgb(26,26,26)"/><circle cx="76.8" cy="52.1" r="1.8" fill="rgb(20,20,20)"/><circle cx="72.4" cy="52.8" r="1.56" fill="rgb(26,26,26)"/><circle cx="66.1" cy="58.4" r="1.8" fill="rgb(20,20,20)"/><circle cx="74.3" cy="59.7" r="1.8" fill="rgb(20,20,20)"/><circle cx="85.7" cy="62.2" r="1.8" fill="rgb(26,26,26)"/><circle cx="53.5" cy="25.0" r="1.4" fill="rgb(26,26,26)"/><circle cx="56.6" cy="24.4" r="1.3" fill="rgb(31,31,31)"/><circle cx="85" cy="46.5" r="1.68" fill="rgb(26,26,26)"/><circle cx="45.9" cy="32.6" r="1.44" fill="rgb(64,64,64)"/><circle cx="53.2" cy="12.5" r="1.6" fill="rgb(46,46,46)"/><circle cx="52.5" cy="24.9" r="1.5" fill="rgb(20,20,20)"/><circle cx="56.3" cy="24.1" r="1.4" fill="rgb(26,26,26)"/><circle cx="46.3" cy="32.6" r="1.56" fill="rgb(38,38,38)"/><circle cx="82.8" cy="71.3" r="1.4" fill="rgb(26,26,26)"/><circle cx="127.4" cy="31.5" r="1.6" fill="rgb(13,13,13)"/><circle cx="127.4" cy="19.7" r="1.4" fill="rgb(26,26,26)"/><circle cx="117.3" cy="40.7" r="1.5" fill="rgb(26,26,26)"/><circle cx="121" cy="44.3" r="1.4" fill="rgb(31,31,31)"/><circle cx="109.1" cy="52.5" r="1.5" fill="rgb(26,26,26)"/><circle cx="139.2" cy="53.4" r="1.6" fill="rgb(13,13,13)"/><circle cx="147.4" cy="67.1" r="2.1" fill="rgb(5,5,5)"/><circle cx="131.9" cy="72.6" r="1.4" fill="rgb(26,26,26)"/><circle cx="108.2" cy="70.8" r="1.4" fill="rgb(31,31,31)"/><circle cx="138.3" cy="48.0" r="1.4" fill="rgb(31,31,31)"/><circle cx="144.7" cy="6.1" r="1.5" fill="rgb(51,51,51)"/><circle cx="83" cy="70.8" r="1.5" fill="rgb(13,13,13)"/><circle cx="99.1" cy="71.9" r="1.4" fill="rgb(26,26,26)"/><circle cx="109.4" cy="70.8" r="1.3" fill="rgb(38,38,38)"/><circle cx="131.3" cy="73.1" r="1.4" fill="rgb(31,31,31)"/><circle cx="139.4" cy="54.7" r="1.4" fill="rgb(26,26,26)"/><circle cx="127.6" cy="31.8" r="1.5" fill="rgb(26,26,26)"/><circle cx="77.2" cy="1.0" r="1.3" fill="rgb(38,38,38)"/><circle cx="54.1" cy="53.5" r="1.68" fill="rgb(13,13,13)"/><circle cx="66.8" cy="60.4" r="1.68" fill="rgb(26,26,26)"/><circle cx="94" cy="34.2" r="1.2" fill="rgb(51,51,51)"/><circle cx="104" cy="29.2" r="1.2" fill="rgb(56,56,56)"/><circle cx="134" cy="39.2" r="1.2" fill="rgb(51,51,51)"/><circle cx="114" cy="19.2" r="1.1" fill="rgb(64,64,64)"/><circle cx="149" cy="29.2" r="1.1" fill="rgb(64,64,64)"/><circle cx="89" cy="19.2" r="1.1" fill="rgb(64,64,64)"/></g></g><rect x="0" y="0" width="1" height="105.5" fill="#000" opacity="0.22"/><rect x="0" y="104.5" width="175" height="1" fill="#000" opacity="0.45"/></svg>

<div id="title" class="t" style="left:307px;top:-1px;font-size:22.5px;color:#111">AR 11318</div>
<div id="pl0" class="t" style="left:28px;top:27px;font-size:25px;color:#111">(a)</div>
<div id="pl1" class="t" style="left:229px;top:27px;font-size:25px;color:#111">(b)</div>
<div id="pl2" class="t" style="left:426px;top:27px;font-size:25px;color:#111">(c)</div>
<div id="pl3" class="t" style="left:22px;top:183px;font-size:25px;color:#111">(d)</div>
<div id="pl4" class="t" style="left:230px;top:183px;font-size:25px;color:#111">(e)</div>
<div id="pl5" class="t" style="left:427px;top:183px;font-size:25px;color:#111">(f)</div>
<div id="sub0" class="t" style="left:120px;top:44.2px;font-size:12.4px;color:#4a4a4a;word-spacing:1.6px;letter-spacing:-0.52px">B(t=30 h)</div>
<div id="sub1" class="t" style="left:306.5px;top:44.2px;font-size:12.4px;color:#4a4a4a;word-spacing:1.6px;letter-spacing:-0.47px">B(t=84 hl2min)</div>
<div id="sub2" class="t" style="left:512.5px;top:44.2px;font-size:12.4px;color:#4a4a4a;word-spacing:1.6px;letter-spacing:-0.72px">B(t=120 h)</div>
<div id="sub3" class="t" style="left:119.8px;top:198.7px;font-size:12.4px;color:#4a4a4a;word-spacing:1.6px;letter-spacing:-0.52px">H(t=30 h)</div>
<div id="sub4" class="t" style="left:305.5px;top:198.7px;font-size:12.4px;color:#4a4a4a;word-spacing:1.6px;letter-spacing:-0.47px">H(t=84 hl2min)</div>
<div id="sub5" class="t" style="left:512.5px;top:198.7px;font-size:12.4px;color:#4a4a4a;word-spacing:1.6px;letter-spacing:-0.72px">H(t=120 h)</div>
<div id="y0_175" class="t" style="left:4px;top:55.56px;font-size:13.5px;color:#484848;transform:scale(0.95,1.1);transform-origin:100% 50%;text-align:right;width:40px">175</div>
<div id="y0_150" class="t" style="left:4px;top:69.63px;font-size:13.5px;color:#484848;transform:scale(0.95,1.1);transform-origin:100% 50%;text-align:right;width:40px">150</div>
<div id="y0_125" class="t" style="left:4px;top:83.7px;font-size:13.5px;color:#484848;transform:scale(0.95,1.1);transform-origin:100% 50%;text-align:right;width:40px">125</div>
<div id="y0_100" class="t" style="left:4px;top:97.77px;font-size:13.5px;color:#484848;transform:scale(0.95,1.1);transform-origin:100% 50%;text-align:right;width:40px">100</div>
<div id="y0_75" class="t" style="left:4px;top:111.84px;font-size:13.5px;color:#484848;transform:scale(0.95,1.1);transform-origin:100% 50%;text-align:right;width:40px">75</div>
<div id="y0_50" class="t" style="left:4px;top:125.91px;font-size:13.5px;color:#484848;transform:scale(0.95,1.1);transform-origin:100% 50%;text-align:right;width:40px">50</div>
<div id="y0_25" class="t" style="left:4px;top:139.98px;font-size:13.5px;color:#484848;transform:scale(0.95,1.1);transform-origin:100% 50%;text-align:right;width:40px">25</div>
<div id="ylab0" class="t rot" style="left:-1px;top:126px;font-size:13.5px;color:#333">Y (px)</div>
<div id="y1_175" class="t" style="left:4px;top:210.96px;font-size:13.5px;color:#484848;transform:scale(0.95,1.1);transform-origin:100% 50%;text-align:right;width:40px">175</div>
<div id="y1_150" class="t" style="left:4px;top:225.03px;font-size:13.5px;color:#484848;transform:scale(0.95,1.1);transform-origin:100% 50%;text-align:right;width:40px">150</div>
<div id="y1_125" class="t" style="left:4px;top:239.1px;font-size:13.5px;color:#484848;transform:scale(0.95,1.1);transform-origin:100% 50%;text-align:right;width:40px">125</div>
<div id="y1_100" class="t" style="left:4px;top:253.17px;font-size:13.5px;color:#484848;transform:scale(0.95,1.1);transform-origin:100% 50%;text-align:right;width:40px">100</div>
<div id="y1_75" class="t" style="left:4px;top:267.24px;font-size:13.5px;color:#484848;transform:scale(0.95,1.1);transform-origin:100% 50%;text-align:right;width:40px">75</div>
<div id="y1_50" class="t" style="left:4px;top:281.31px;font-size:13.5px;color:#484848;transform:scale(0.95,1.1);transform-origin:100% 50%;text-align:right;width:40px">50</div>
<div id="y1_25" class="t" style="left:4px;top:295.38px;font-size:13.5px;color:#484848;transform:scale(0.95,1.1);transform-origin:100% 50%;text-align:right;width:40px">25</div>
<div id="ylab1" class="t rot" style="left:-1px;top:281.4px;font-size:13.5px;color:#333">Y (px)</div>
<div id="x56_100" class="t" style="left:76.3px;top:320.75px;font-size:13.5px;color:#484848;transform:scale(0.95,1.1);transform-origin:50% 50%;text-align:center;width:30px">100</div>
<div id="x56_200" class="t" style="left:112.4px;top:320.75px;font-size:13.5px;color:#484848;transform:scale(0.95,1.1);transform-origin:50% 50%;text-align:center;width:30px">200</div>
<div id="x56_300" class="t" style="left:148.5px;top:320.75px;font-size:13.5px;color:#484848;transform:scale(0.95,1.1);transform-origin:50% 50%;text-align:center;width:30px">300</div>
<div id="x56_400" class="t" style="left:184.6px;top:320.75px;font-size:13.5px;color:#484848;transform:scale(0.95,1.1);transform-origin:50% 50%;text-align:center;width:30px">400</div>
<div id="xlab56" class="t" style="left:125px;top:341.4px;font-size:14px;color:#333">X (px)</div>
<div id="x256_100" class="t" style="left:276.3px;top:320.75px;font-size:13.5px;color:#484848;transform:scale(0.95,1.1);transform-origin:50% 50%;text-align:center;width:30px">100</div>
<div id="x256_200" class="t" style="left:312.4px;top:320.75px;font-size:13.5px;color:#484848;transform:scale(0.95,1.1);transform-origin:50% 50%;text-align:center;width:30px">200</div>
<div id="x256_300" class="t" style="left:348.5px;top:320.75px;font-size:13.5px;color:#484848;transform:scale(0.95,1.1);transform-origin:50% 50%;text-align:center;width:30px">300</div>
<div id="x256_400" class="t" style="left:384.6px;top:320.75px;font-size:13.5px;color:#484848;transform:scale(0.95,1.1);transform-origin:50% 50%;text-align:center;width:30px">400</div>
<div id="xlab256" class="t" style="left:325px;top:341.4px;font-size:14px;color:#333">X (px)</div>
<div id="x451_100" class="t" style="left:471.3px;top:320.75px;font-size:13.5px;color:#484848;transform:scale(0.95,1.1);transform-origin:50% 50%;text-align:center;width:30px">100</div>
<div id="x451_200" class="t" style="left:507.4px;top:320.75px;font-size:13.5px;color:#484848;transform:scale(0.95,1.1);transform-origin:50% 50%;text-align:center;width:30px">200</div>
<div id="x451_300" class="t" style="left:543.5px;top:320.75px;font-size:13.5px;color:#484848;transform:scale(0.95,1.1);transform-origin:50% 50%;text-align:center;width:30px">300</div>
<div id="x451_400" class="t" style="left:579.6px;top:320.75px;font-size:13.5px;color:#484848;transform:scale(0.95,1.1);transform-origin:50% 50%;text-align:center;width:30px">400</div>
<div id="xlab451" class="t" style="left:520px;top:341.4px;font-size:14px;color:#333">X (px)</div>
<div id="c1_0" class="t" style="left:700px;top:48.05px;font-size:13.5px;color:#4a4a4a;transform:scale(1,1.12);transform-origin:0 50%">2.0</div>
<div id="c1_1" class="t" style="left:700px;top:61.15px;font-size:13.5px;color:#4a4a4a;transform:scale(1,1.12);transform-origin:0 50%">1.5</div>
<div id="c1_2" class="t" style="left:700px;top:74.25px;font-size:13.5px;color:#4a4a4a;transform:scale(1,1.12);transform-origin:0 50%">1.0</div>
<div id="c1_3" class="t" style="left:700px;top:87.35px;font-size:13.5px;color:#4a4a4a;transform:scale(1,1.12);transform-origin:0 50%">0.5</div>
<div id="c1_4" class="t" style="left:700px;top:100.45px;font-size:13.5px;color:#4a4a4a;transform:scale(1,1.12);transform-origin:0 50%">0</div>
<div id="c1_5" class="t" style="left:700px;top:113.55px;font-size:13.5px;color:#4a4a4a;transform:scale(1,1.12);transform-origin:0 50%">- 0.5</div>
<div id="c1_6" class="t" style="left:700px;top:126.65px;font-size:13.5px;color:#4a4a4a;transform:scale(1,1.12);transform-origin:0 50%">- 1.0</div>
<div id="c1_7" class="t" style="left:700px;top:139.75px;font-size:13.5px;color:#4a4a4a;transform:scale(1,1.12);transform-origin:0 50%">- 1.5</div>
<div id="c1_8" class="t" style="left:700px;top:152.85px;font-size:13.5px;color:#4a4a4a;transform:scale(1,1.12);transform-origin:0 50%">- 2.0</div>
<div id="c2_0" class="t" style="left:700px;top:203.15px;font-size:13.5px;color:#4a4a4a;transform:scale(1,1.12);transform-origin:0 50%">0.3</div>
<div id="c2_1" class="t" style="left:700px;top:220.71px;font-size:13.5px;color:#4a4a4a;transform:scale(1,1.12);transform-origin:0 50%">0.2</div>
<div id="c2_2" class="t" style="left:700px;top:238.27px;font-size:13.5px;color:#4a4a4a;transform:scale(1,1.12);transform-origin:0 50%">0.1</div>
<div id="c2_3" class="t" style="left:700px;top:255.83px;font-size:13.5px;color:#4a4a4a;transform:scale(1,1.12);transform-origin:0 50%">0</div>
<div id="c2_4" class="t" style="left:700px;top:273.39px;font-size:13.5px;color:#4a4a4a;transform:scale(1,1.12);transform-origin:0 50%">- 0.1</div>
<div id="c2_5" class="t" style="left:700px;top:290.95px;font-size:13.5px;color:#4a4a4a;transform:scale(1,1.12);transform-origin:0 50%">- 0.2</div>
<div id="bz" class="t rot" style="left:742.4px;top:132px;font-size:13.2px;color:#333">B<span style="font-size:10px;position:relative;top:3px">z</span> (10<span style="font-size:10px;position:relative;top:-5px;margin:0 1.5px">3</span>G)</div>
<div id="hel" class="t rot" style="left:746px;top:350.5px;font-size:13px;color:#333">Helicity flux (10<span style="font-size:9.5px;position:relative;top:-6.5px;margin-left:1px">18</span> Mx<span style="font-size:9.5px;position:relative;top:-6.5px;margin:0 1px">2</span>cm<span style="font-size:9.5px;position:relative;top:-6.5px;margin:0 1px">- 2</span>s<span style="font-size:9.5px;position:relative;top:-6.5px;margin:0 1px">- 1</span>)</div>
<div class="tick" style="left:683px;top:54.9px"></div>
<div class="tick" style="left:683px;top:68.0px"></div>
<div class="tick" style="left:683px;top:81.1px"></div>
<div class="tick" style="left:683px;top:94.2px"></div>
<div class="tick" style="left:683px;top:107.3px"></div>
<div class="tick" style="left:683px;top:120.4px"></div>
<div class="tick" style="left:683px;top:133.5px"></div>
<div class="tick" style="left:683px;top:146.6px"></div>
<div class="tick" style="left:683px;top:159.7px"></div>
<div class="tick" style="left:683px;top:210.0px"></div>
<div class="tick" style="left:683px;top:227.6px"></div>
<div class="tick" style="left:683px;top:245.1px"></div>
<div class="tick" style="left:683px;top:262.7px"></div>
<div class="tick" style="left:683px;top:280.2px"></div>
<div class="tick" style="left:683px;top:297.8px"></div>

<div style="position:absolute;left:648.7px;top:55.4px;width:33.7px;height:104.6px;background:linear-gradient(to top,#000003,#160b39 10%,#410967 20%,#6a176e 30%,#932567 40%,#bb3754 50%,#dc5039 60%,#f37719 70%,#fba40a 80%,#f5d745 90%,#fcfea4)"></div>
<div style="position:absolute;left:648.7px;top:210.5px;width:33.7px;height:105px;background:linear-gradient(to top,#00008b,#cbd8ca 50%,#8b0000)"></div>
<div style="position:absolute;left:682.2px;top:55.4px;width:0.8px;height:104.6px;background:#666"></div>
<div style="position:absolute;left:682.2px;top:210.5px;width:0.8px;height:105px;background:#666"></div>
</div></body></html>
